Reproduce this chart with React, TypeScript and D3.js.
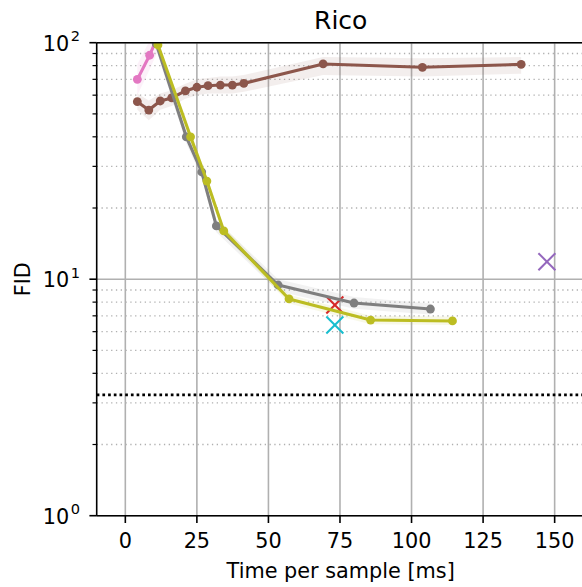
import React from "react";
import * as d3 from "d3";

const xTicks = [0, 25, 50, 75, 100, 125, 150];
const yMajor = [1, 10, 100];
const yExp = ["0", "1", "2"];

const pinkX = [4.2, 8.5, 12.0];
const pinkY = [70.0, 88.5, 111];
const pinkHi = [81, 102, 128];
const pinkLo = [60, 77, 96];

const brownX = [4.2, 8.2, 12.2, 16.2, 21.0, 25.0, 28.9, 33.2, 37.4, 41.4, 69.1, 103.8, 138.3];
const brownY = [56.3, 51.9, 56.7, 58.4, 62.5, 64.8, 65.8, 66.2, 66.2, 67.3, 81.3, 78.7, 81.0];
const brownHi = [61, 57, 61, 63, 67, 70, 71, 72, 72, 73, 87, 86, 87];
const brownLo = [52, 47, 52, 54, 58, 60, 61, 61, 61, 62, 73, 72, 74];

const grayX = [10.8, 21.3, 26.7, 31.8, 53.4, 79.9, 106.6];
const grayY = [99, 40.0, 28.4, 16.8, 9.45, 7.93, 7.48];
const grayHi = [105, 42.5, 30, 17.8, 10.0, 8.4, 7.9];
const grayLo = [93, 37.6, 26.8, 15.8, 8.9, 7.5, 7.1];

const oliveX = [11.4, 22.8, 28.5, 34.4, 57.2, 85.7, 114.3];
const oliveY = [97.8, 40.0, 26.0, 16.0, 8.25, 6.72, 6.66];
const oliveHi = [102, 41.6, 27.1, 16.7, 8.6, 7.0, 6.95];
const oliveLo = [94, 38.4, 25, 15.4, 7.9, 6.45, 6.4];

const crossX = [73.2, 73.2, 147.3];
const crossY = [7.78, 6.40, 11.86];
const crossColors = ["#d62728", "#17becf", "#9467bd"];

const refFID = 3.24;

const W = 582;
const H = 587;
const L = 96.7, R = 584.7, T = 42.7, B = 515.7;
const FONT = "DejaVu Sans, sans-serif";

export default function App() {
  const x = d3.scaleLinear().domain([-10, 160.5]).range([L, R]);
  const y = d3.scaleLog().domain([1, 100]).range([B, T]);

  const minor: number[] = [];
  [1, 10].forEach((dec) => {
    for (let k = 2; k <= 9; k++) minor.push(dec * k);
  });

  const line = d3
    .line<[number, number]>()
    .x((d) => x(d[0]))
    .y((d) => y(d[1]));
  const area = d3
    .area<[number, number, number]>()
    .x((d) => x(d[0]))
    .y0((d) => y(d[1]))
    .y1((d) => y(d[2]));

  const series = [
    { xs: pinkX, ys: pinkY, lo: pinkLo, hi: pinkHi, color: "#e377c2" },
    { xs: brownX, ys: brownY, lo: brownLo, hi: brownHi, color: "#8c564b" },
    { xs: grayX, ys: grayY, lo: grayLo, hi: grayHi, color: "#7f7f7f" },
    { xs: oliveX, ys: oliveY, lo: oliveLo, hi: oliveHi, color: "#bcbd22" },
  ];

  const cs = 8.5;

  return (
    <svg width={W} height={H} style={{ position: "absolute", left: 0, top: 0, fontFamily: FONT }}>
      <defs>
        <clipPath id="plotclip">
          <rect x={L} y={T} width={R - L} height={B - T} />
        </clipPath>
      </defs>
      <rect x={0} y={0} width={W} height={H} fill="white" />
      {/* grid */}
      <g>
        {minor.map((v) => (
          <line key={"mg" + v} x1={L} x2={R} y1={y(v)} y2={y(v)} stroke="#b0b0b0" strokeWidth={1.3} strokeDasharray="1.3,3.5" />
        ))}
        {xTicks.map((v) => (
          <line key={"gx" + v} x1={x(v)} x2={x(v)} y1={T} y2={B} stroke="#b0b0b0" strokeWidth={1.6} />
        ))}
        {yMajor.map((v) => (
          <line key={"gy" + v} x1={L} x2={R} y1={y(v)} y2={y(v)} stroke="#b0b0b0" strokeWidth={1.6} />
        ))}
      </g>
      <g clipPath="url(#plotclip)">
        <line x1={L} x2={R} y1={y(refFID)} y2={y(refFID)} stroke="black" strokeWidth={2.7} strokeDasharray="2.7,3" />
        {series.map((s, i) => (
          <path
            key={"band" + i}
            d={area(s.xs.map((v, j) => [v, s.lo[j], s.hi[j]] as [number, number, number])) || ""}
            fill={s.color}
            opacity={0.1}
          />
        ))}
        {crossX.map((v, i) => (
          <g key={"cr" + i} stroke={crossColors[i]} strokeWidth={2}>
            <line x1={x(v) - cs} x2={x(v) + cs} y1={y(crossY[i]) - cs} y2={y(crossY[i]) + cs} />
            <line x1={x(v) - cs} x2={x(v) + cs} y1={y(crossY[i]) + cs} y2={y(crossY[i]) - cs} />
          </g>
        ))}
        {series.map((s, i) => (
          <g key={"s" + i}>
            <path
              d={line(s.xs.map((v, j) => [v, s.ys[j]] as [number, number])) || ""}
              fill="none"
              stroke={s.color}
              strokeWidth={3.1}
              strokeLinejoin="round"
            />
            {s.xs.map((v, j) => (
              <circle key={j} cx={x(v)} cy={y(s.ys[j])} r={4.4} fill={s.color} />
            ))}
          </g>
        ))}
      </g>
      {/* spines */}
      <g stroke="black" strokeWidth={1.6} fill="none">
        <line x1={L} x2={L} y1={T} y2={B} />
        <line x1={L} x2={R} y1={B} y2={B} />
        <line x1={L} x2={R} y1={T} y2={T} />
        <line x1={R} x2={R} y1={T} y2={B} />
      </g>
      {/* x ticks */}
      {xTicks.map((v) => (
        <g key={"xt" + v}>
          <line x1={x(v)} x2={x(v)} y1={B} y2={B + 7.3} stroke="black" strokeWidth={1.6} />
          <text x={x(v)} y={548.3} textAnchor="middle" fontSize={20.8} fill="black">
            {v}
          </text>
        </g>
      ))}
      {/* y ticks */}
      {minor.map((v) => (
        <line key={"ymt" + v} x1={L - 4.2} x2={L} y1={y(v)} y2={y(v)} stroke="black" strokeWidth={1.2} />
      ))}
      {yMajor.map((v, i) => (
        <g key={"yt" + v}>
          <line x1={L - 7.3} x2={L} y1={y(v)} y2={y(v)} stroke="black" strokeWidth={1.6} />
          <text x={80} y={y(v) + 8} textAnchor="end" fontSize={20.8} fill="black">
            10
            <tspan dx={1.5} dy={-9.5} fontSize={14.6}>
              {yExp[i]}
            </tspan>
          </text>
        </g>
      ))}
      {/* labels */}
      <text x={(L + R) / 2} y={578.3} textAnchor="middle" fontSize={20.8} fill="black">
        Time per sample [ms]
      </text>
      <text transform={`translate(29.5, ${(T + B) / 2}) rotate(-90)`} textAnchor="middle" fontSize={20.8} fill="black">
        FID
      </text>
      <text x={(L + R) / 2} y={29.3} textAnchor="middle" fontSize={25} fill="black">
        Rico
      </text>
    </svg>
  );
}
